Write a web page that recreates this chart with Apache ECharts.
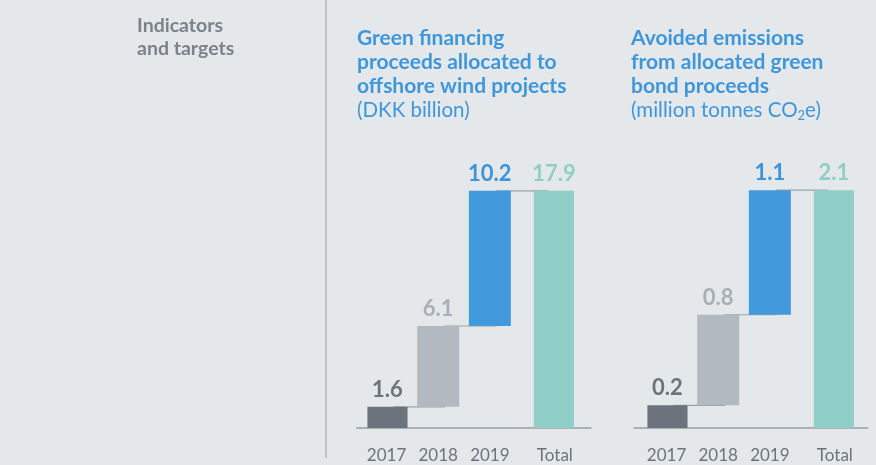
<!DOCTYPE html>
<html>
<head>
<meta charset="utf-8">
<script src="https://cdn.jsdelivr.net/npm/echarts@6/dist/echarts.min.js"></script>
<style>
html,body{margin:0;padding:0;background:#e4e8eb;}
#chart{width:876px;height:465px;}
</style>
</head>
<body>
<div id="chart"></div>
<script>
// ---- data ----
const categories = ['2017', '2018', '2019', 'Total'];
const financeYears = [1.6, 6.1, 10.2];
const financeTotal = 17.9;
const emissionYears = [0.2, 0.8, 1.1];
const emissionTotal = 2.1;

// ---- styles ----
const FONT = 'Lato';
const barColors = ['#6b747c', '#b2b9c0', '#4299dc', '#8fcfc8'];
const labelColors = ['#6b747c', '#a8afb6', '#3d95d9', '#8fcfc8'];
const BAR_W = 42;
const BAR_GAP = '-68.2%';

const chart = echarts.init(document.getElementById('chart'));

function panel(k, years, total, barGrid, baseGrid, yMax) {
  const xi = k * 2, yi = k * 2;
  const cum = [];
  let run = 0;
  years.forEach(v => { cum.push(+(run).toFixed(4)); run += v; });
  const base = cum.concat(['-']);
  const tops = years.map((v, i) => +(cum[i] + v).toFixed(4));
  const stepLine = tops.concat([total]);

  const grids = [barGrid, baseGrid];
  const xAxes = [
    {
      type: 'category', gridIndex: xi, data: categories,
      axisLine: {show: false}, axisTick: {show: false},
      axisLabel: {
        interval: 0, hideOverlap: false, margin: 19,
        formatter: v => v === 'Total' ? '{t|' + v + '}' : '{y|' + v + '}',
        rich: {
          y: {fontFamily: FONT, fontSize: 17, color: '#6b747c', padding: [0, 13.35, 0, 0]},
          t: {fontFamily: FONT, fontSize: 17, color: '#6b747c', padding: [0, 0, 0, 13.35]}
        }
      }
    },
    {
      type: 'value', gridIndex: xi + 1, min: 0, max: 1,
      axisLine: {show: true, lineStyle: {color: '#979ea5', width: 1.5}},
      axisTick: {show: false}, axisLabel: {show: false}, splitLine: {show: false}
    }
  ];
  const yAxes = [
    {type: 'value', gridIndex: xi, min: 0, max: yMax, show: false},
    {type: 'value', gridIndex: xi + 1, min: 0, max: 1, show: false}
  ];
  const series = [
    {
      type: 'line', xAxisIndex: xi, yAxisIndex: yi, data: stepLine, step: 'end',
      symbol: 'none', silent: true, z: 1,
      lineStyle: {color: '#9ca2a8', width: 1.2}
    },
    {
      type: 'bar', xAxisIndex: xi, yAxisIndex: yi, stack: 'y' + k, data: base,
      barWidth: BAR_W, barGap: BAR_GAP, silent: true, z: 2,
      itemStyle: {color: 'rgba(0,0,0,0)'}
    },
    {
      type: 'bar', xAxisIndex: xi, yAxisIndex: yi, stack: 'y' + k,
      barWidth: BAR_W, barGap: BAR_GAP, z: 2,
      data: years.map((v, i) => ({
        value: v, itemStyle: {color: barColors[i]},
        label: {color: labelColors[i]}
      })).concat(['-']),
      label: {
        show: true, position: 'top', distance: 6, formatter: p => String(p.value),
        fontFamily: FONT, fontWeight: 'bold', fontSize: 22
      }
    },
    {
      type: 'bar', xAxisIndex: xi, yAxisIndex: yi, stack: 't' + k,
      barWidth: BAR_W, barGap: BAR_GAP, z: 2,
      data: ['-', '-', '-', {value: total, itemStyle: {color: barColors[3]}, label: {color: labelColors[3]}}],
      label: {
        show: true, position: 'top', distance: 6, formatter: p => String(p.value),
        fontFamily: FONT, fontWeight: 'bold', fontSize: 22
      }
    }
  ];
  return {grids, xAxes, yAxes, series};
}

const p1 = panel(0, financeYears, financeTotal,
  {left: 367.4, right: 302.0, top: 163, bottom: 37},
  {left: 356.7, right: 285, top: 163, bottom: 37}, 20);
const p2 = panel(1, emissionYears, emissionTotal,
  {left: 647.4, right: 22.0, top: 163, bottom: 37},
  {left: 634, right: 8.3, top: 163, bottom: 37}, 2.34);

const titleRich = {
  b: {fontFamily: FONT, fontWeight: 'bold', fontSize: 21, color: '#3f97db', lineHeight: 24},
  r: {fontFamily: FONT, fontWeight: 'normal', fontSize: 20.5, color: '#3f97db', lineHeight: 24},
  s: {fontFamily: FONT, fontWeight: 'normal', fontSize: 13, color: '#3f97db', lineHeight: 13, verticalAlign: 'bottom'}
};

chart.setOption({
  backgroundColor: '#e4e8eb',
  animation: false,
  title: [
    {
      left: 132, top: 9,
      text: '{g|Indicators}\n{g|and targets}',
      textStyle: {rich: {g: {fontFamily: FONT, fontWeight: 'bold', fontSize: 19.5, color: '#7b838a', lineHeight: 23}}}
    },
    {
      left: 352, top: 21,
      text: '{b|Green financing}\n{b|proceeds allocated to}\n{b|offshore wind projects}\n{r|(DKK billion)}',
      textStyle: {rich: titleRich}
    },
    {
      left: 626, top: 21,
      text: '{b|Avoided emissions}\n{b|from allocated green}\n{b|bond proceeds}\n{r|(million tonnes CO}{s|2}{r|e)}',
      textStyle: {rich: titleRich}
    }
  ],
  graphic: [
    {type: 'line', shape: {x1: 326, y1: 0, x2: 326, y2: 458}, style: {stroke: '#b3b8bd', lineWidth: 1.5}}
  ],
  grid: p1.grids.concat(p2.grids),
  xAxis: p1.xAxes.concat(p2.xAxes),
  yAxis: p1.yAxes.concat(p2.yAxes),
  series: p1.series.concat(p2.series)
});
</script>
</body>
</html>
